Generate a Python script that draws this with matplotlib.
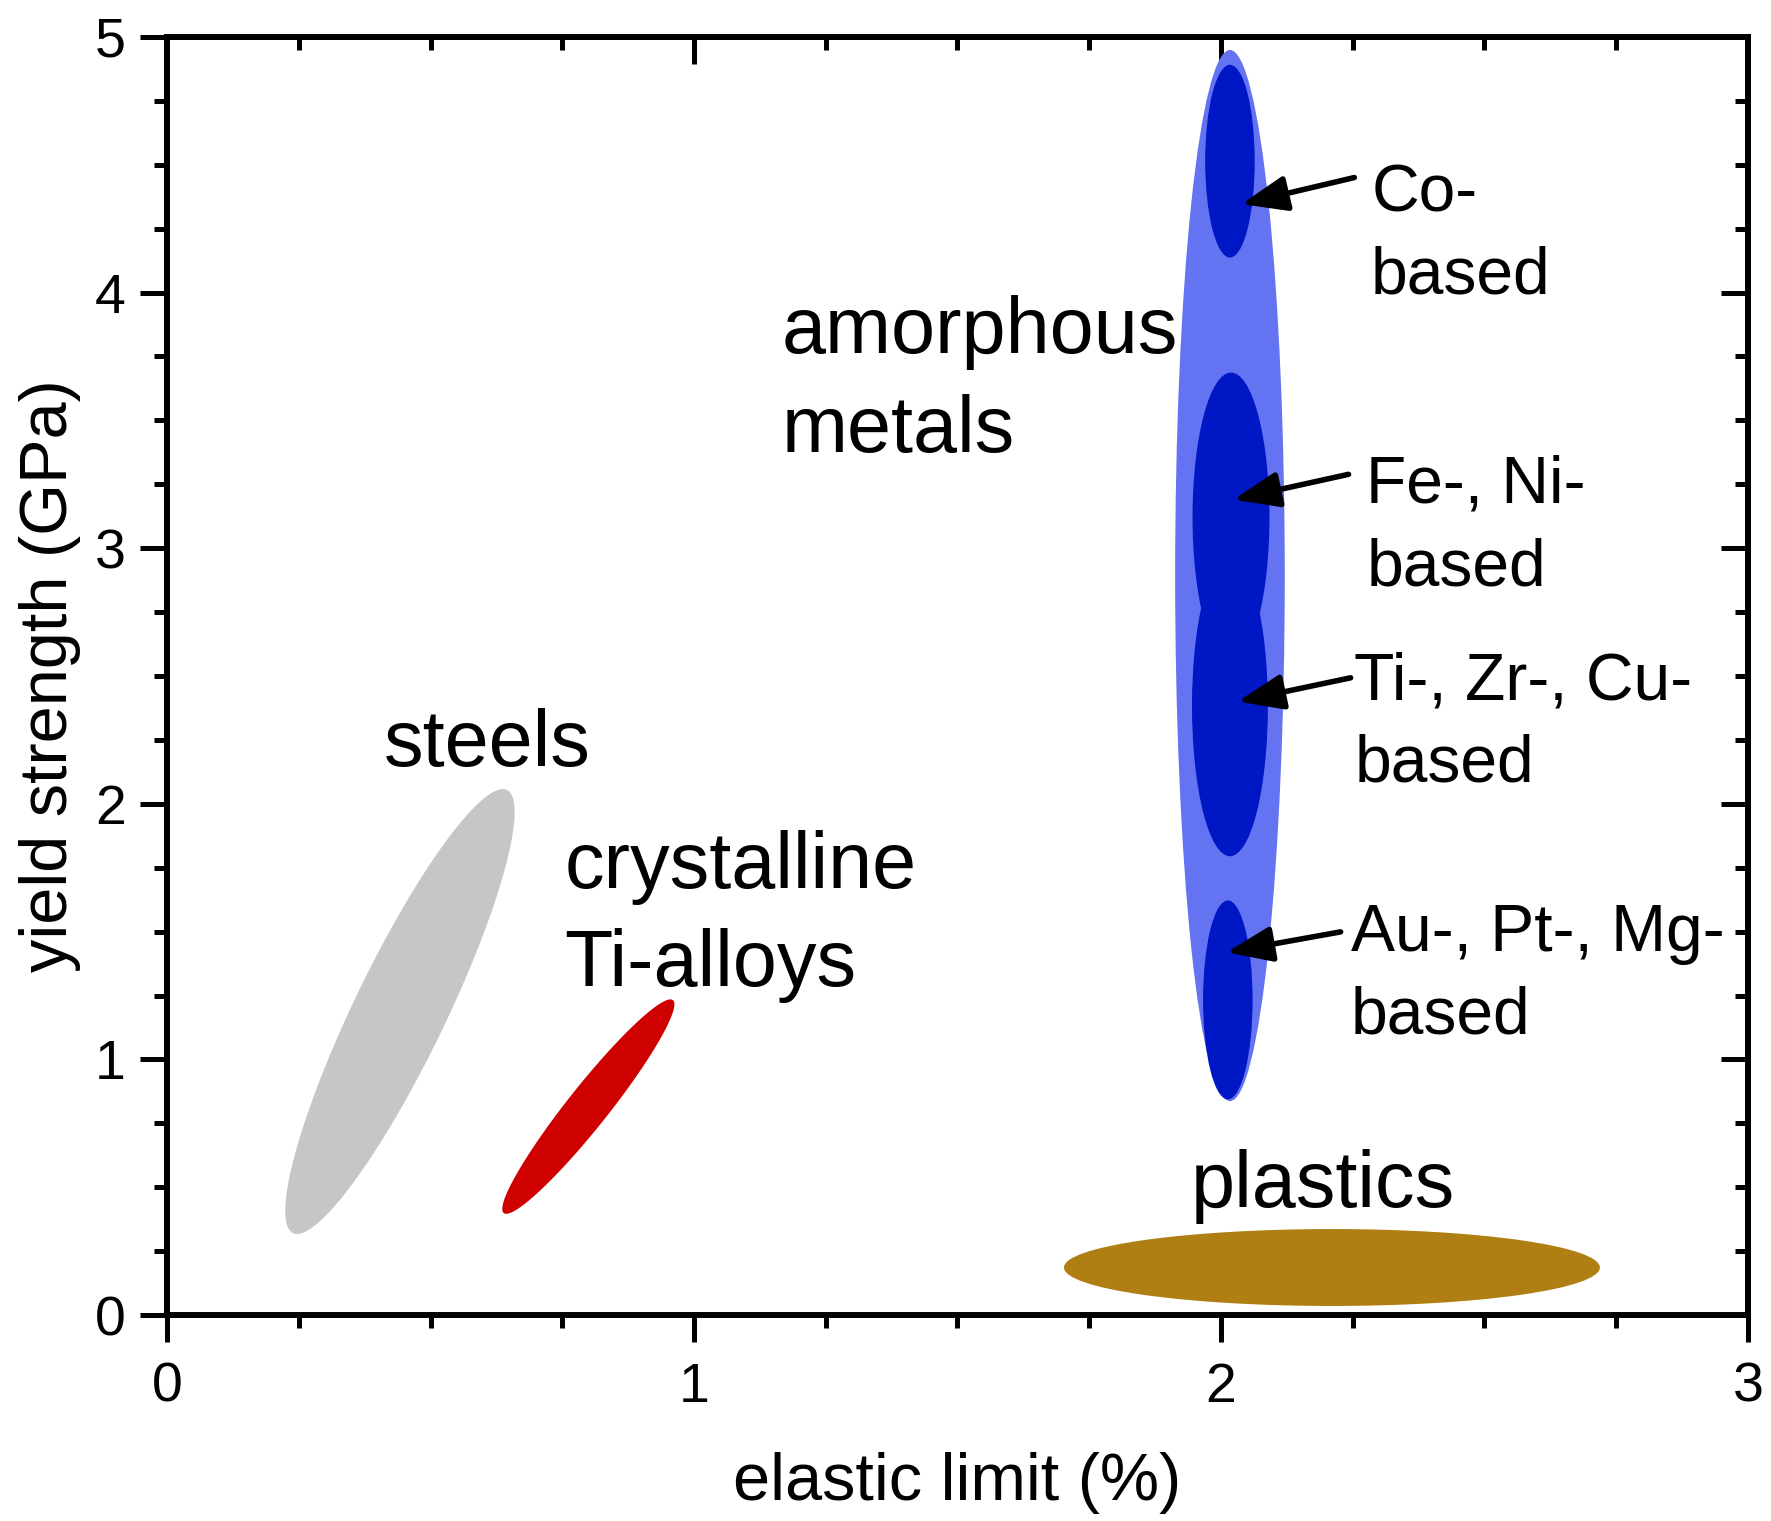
import numpy as np
import matplotlib
matplotlib.use("Agg")
import matplotlib.pyplot as plt
from matplotlib.patches import Ellipse, Polygon
from matplotlib.ticker import MultipleLocator

plt.rcParams['font.family'] = ['Liberation Sans', 'DejaVu Sans']

# --- data ---
# tilted regions: both tips of the long axis (elastic limit %, GPa) + width/length ratio
steel_tips = [(0.239, 0.321), (0.645, 2.054)]
steel_ratio = 0.187
tialloy_tips = [(0.639, 0.399), (0.960, 1.232)]
tialloy_ratio = 0.15

# upright regions: centre x, centre y, full width, full height
plastics = (2.2105, 0.186, 1.017, 0.301)
amorphous = (2.017, 2.893, 0.208, 4.112)

sub_labels = ["Co-\nbased", "Fe-, Ni-\nbased", "Ti-, Zr-, Cu-\nbased", "Au-, Pt-, Mg-\nbased"]
sub_x = [2.017, 2.019, 2.017, 2.013]
sub_y = [4.514, 3.121, 2.383, 1.233]
sub_w = [0.094, 0.146, 0.144, 0.094]
sub_h = [0.754, 1.132, 1.176, 0.778]

# label positions (baseline of last line) and arrows
sub_text_x = [2.285, 2.276, 2.253, 2.246]
sub_text_y = [3.996, 2.856, 2.087, 1.101]
arrow_tail_x = [2.253, 2.242, 2.246, 2.227]
arrow_tail_y = [4.450, 3.289, 2.493, 1.499]
arrow_head_x = [2.039, 2.024, 2.032, 2.011]
arrow_head_y = [4.346, 3.190, 2.400, 1.419]

group_labels = ["amorphous\nmetals", "steels", "crystalline\nTi-alloys", "plastics"]
group_x = [1.167, 0.411, 0.754, 1.942]
group_y = [3.378, 2.149, 1.286, 0.424]

x_major = [0, 1, 2, 3]
y_major = [0, 1, 2, 3, 4, 5]

# colours
c_steel = "#C6C6C6"
c_ti = "#CF0000"
c_plastic = "#B07F14"
c_amorph = "#6473F2"
c_sub = "#0017C6"

fig = plt.figure(figsize=(17.71, 15.21), dpi=100)
ax = fig.add_axes([0.0943, 0.1354, 0.8927, 0.8403])
ax.set_xlim(0, 3)
ax.set_ylim(0, 5)


def tilted_ellipse(ax, p1, p2, ratio, color):
    """Ellipse between two tips, built in screen space so it is not sheared."""
    P = ax.transData.transform([p1, p2])
    c = P.mean(axis=0)
    v = (P[1] - P[0]) / 2
    n = np.array([-v[1], v[0]]) * ratio
    t = np.linspace(0, 2 * np.pi, 300)
    pts = c + np.outer(np.cos(t), v) + np.outer(np.sin(t), n)
    ax.add_patch(Polygon(ax.transData.inverted().transform(pts), closed=True,
                         facecolor=color, edgecolor="none"))


tilted_ellipse(ax, *steel_tips, steel_ratio, c_steel)
tilted_ellipse(ax, *tialloy_tips, tialloy_ratio, c_ti)

px, py, pw, ph = plastics
ax.add_patch(Ellipse((px, py), pw, ph, facecolor=c_plastic, edgecolor="none"))
axx, axy, aw, ah = amorphous
ax.add_patch(Ellipse((axx, axy), aw, ah, facecolor=c_amorph, edgecolor="none"))
for x, y, w, h in zip(sub_x, sub_y, sub_w, sub_h):
    ax.add_patch(Ellipse((x, y), w, h, facecolor=c_sub, edgecolor="none"))

for lab, x, y in zip(group_labels, group_x, group_y):
    ax.text(x, y, lab, fontsize=57, ha="left", va="baseline", linespacing=1.4)

for lab, x, y in zip(sub_labels, sub_text_x, sub_text_y):
    ax.text(x, y, lab, fontsize=47.5, ha="left", va="baseline", linespacing=1.42)

for tx, ty, hx, hy in zip(arrow_tail_x, arrow_tail_y, arrow_head_x, arrow_head_y):
    ax.annotate("", xy=(hx, hy), xytext=(tx, ty),
                arrowprops=dict(arrowstyle="-|>,head_length=1.15,head_width=0.45",
                                mutation_scale=24, lw=4, color="black",
                                shrinkA=0, shrinkB=0))

# axes styling
for s in ax.spines.values():
    s.set_linewidth(4.3)
ax.set_xticks(x_major)
ax.set_yticks(y_major)
ax.xaxis.set_minor_locator(MultipleLocator(0.25))
ax.yaxis.set_minor_locator(MultipleLocator(0.25))
ax.tick_params(which="major", direction="out", length=19.5, width=3.6, labelsize=40)
ax.tick_params(which="minor", direction="out", length=9.4, width=3.6)
ax.tick_params(axis="x", which="major", pad=14)
ax.tick_params(axis="y", which="major", pad=10)

top = ax.secondary_xaxis("top")
top.set_xticks(x_major)
top.xaxis.set_minor_locator(MultipleLocator(0.25))
top.tick_params(which="major", direction="in", length=19.5, width=3.6, labeltop=False)
top.tick_params(which="minor", direction="in", length=9.4, width=3.6)
top.spines["top"].set_linewidth(4.3)

right = ax.secondary_yaxis("right")
right.set_yticks(y_major)
right.yaxis.set_minor_locator(MultipleLocator(0.25))
right.tick_params(which="major", direction="in", length=19.5, width=3.6, labelright=False)
right.tick_params(which="minor", direction="in", length=9.4, width=3.6)
right.spines["right"].set_linewidth(4.3)

ax.set_xlabel("elastic limit (%)", fontsize=48, labelpad=28)
ax.set_ylabel("yield strength (GPa)", fontsize=48, labelpad=10)

fig.savefig("out.png", dpi=100, facecolor="white")
